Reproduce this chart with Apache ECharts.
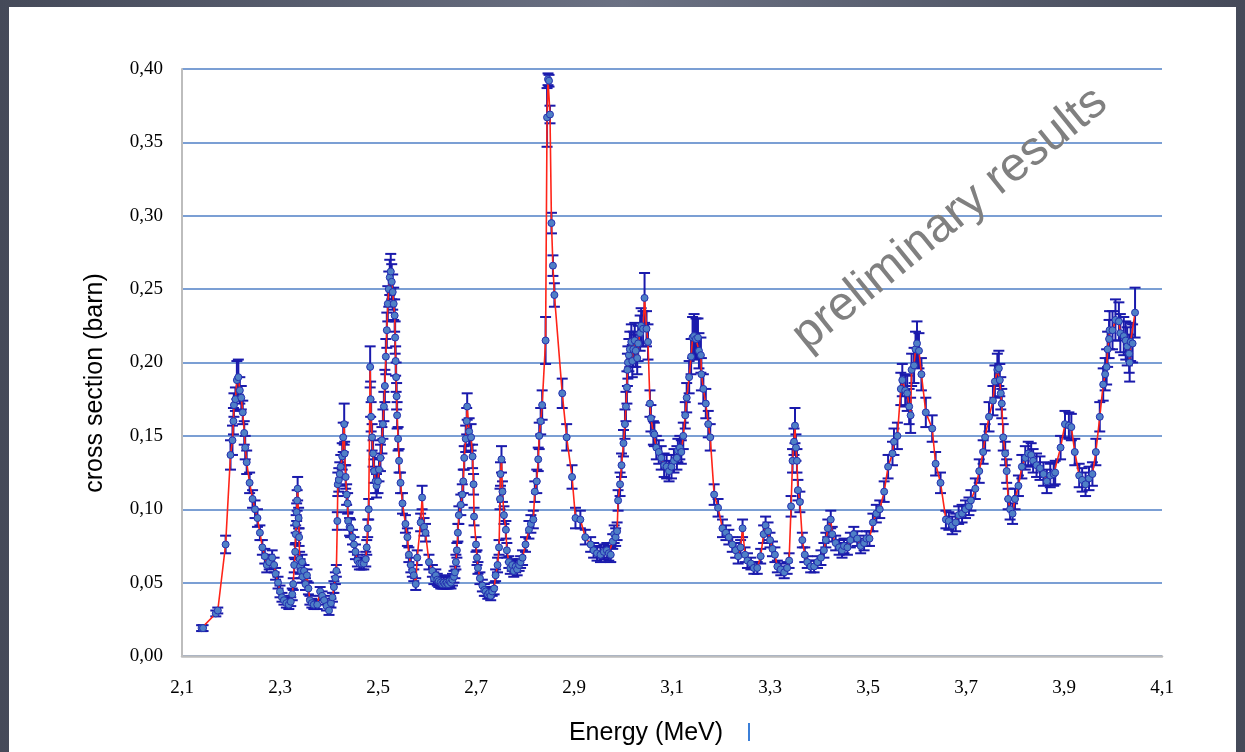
<!DOCTYPE html>
<html>
<head>
<meta charset="utf-8">
<script src="https://cdn.jsdelivr.net/npm/echarts@6/dist/echarts.min.js"></script>
<style>
  html, body { margin: 0; padding: 0; width: 1245px; height: 752px; overflow: hidden; }
  body { background: linear-gradient(90deg, #454a59 0%, #6b7183 50%, #454a59 100%); }
  #sheet { position: absolute; left: 9px; top: 7px; width: 1227px; height: 745px; background: #ffffff; }
  #chart { position: absolute; left: 0; top: 0; width: 1245px; height: 752px; }
</style>
</head>
<body>
<div id="sheet"></div>
<div id="chart"></div>
<script>
// Measured points: beam energy (MeV), cross section (barn) and its uncertainty (barn)
const energyMeV = [
  2.140, 2.143, 2.169, 2.173, 2.189, 2.199, 2.203, 2.205, 2.206, 2.209, 2.212, 2.215, 2.218, 2.221, 2.224, 2.227, 2.229, 2.232, 2.238, 2.244,
  2.249, 2.254, 2.259, 2.264, 2.269, 2.273, 2.278, 2.284, 2.288, 2.291, 2.296, 2.300, 2.304, 2.308, 2.313, 2.318, 2.322, 2.325, 2.327, 2.329,
  2.331, 2.332, 2.333, 2.334, 2.335, 2.336, 2.338, 2.339, 2.340, 2.341, 2.343, 2.345, 2.346, 2.349, 2.352, 2.355, 2.358, 2.361, 2.365, 2.369,
  2.376, 2.382, 2.386, 2.390, 2.395, 2.400, 2.404, 2.407, 2.410, 2.413, 2.415, 2.417, 2.418, 2.420, 2.422, 2.424, 2.427, 2.429, 2.431, 2.432,
  2.434, 2.436, 2.438, 2.439, 2.442, 2.444, 2.448, 2.451, 2.454, 2.458, 2.462, 2.466, 2.471, 2.475, 2.477, 2.479, 2.481, 2.484, 2.485, 2.486,
  2.488, 2.490, 2.492, 2.495, 2.497, 2.500, 2.502, 2.505, 2.508, 2.510, 2.512, 2.514, 2.516, 2.518, 2.520, 2.522, 2.524, 2.526, 2.528, 2.530,
  2.532, 2.534, 2.535, 2.536, 2.537, 2.538, 2.539, 2.541, 2.543, 2.546, 2.550, 2.556, 2.560, 2.563, 2.567, 2.570, 2.573, 2.577, 2.580, 2.587,
  2.590, 2.594, 2.597, 2.604, 2.611, 2.614, 2.618, 2.621, 2.624, 2.628, 2.631, 2.634, 2.637, 2.640, 2.643, 2.646, 2.649, 2.652, 2.655, 2.657,
  2.659, 2.661, 2.663, 2.665, 2.669, 2.672, 2.674, 2.676, 2.679, 2.681, 2.682, 2.686, 2.690, 2.693, 2.695, 2.696, 2.700, 2.702, 2.704, 2.708,
  2.713, 2.717, 2.720, 2.724, 2.727, 2.730, 2.733, 2.737, 2.740, 2.744, 2.747, 2.749, 2.750, 2.752, 2.754, 2.757, 2.761, 2.763, 2.767, 2.770,
  2.774, 2.777, 2.781, 2.784, 2.788, 2.791, 2.795, 2.801, 2.808, 2.812, 2.817, 2.820, 2.824, 2.827, 2.829, 2.832, 2.835, 2.842, 2.845, 2.847,
  2.849, 2.851, 2.854, 2.857, 2.860, 2.876, 2.885, 2.896, 2.903, 2.913, 2.923, 2.934, 2.940, 2.947, 2.954, 2.961, 2.967, 2.971, 2.975, 2.979,
  2.982, 2.985, 2.988, 2.990, 2.994, 2.997, 3.001, 3.004, 3.006, 3.008, 3.009, 3.010, 3.012, 3.014, 3.017, 3.019, 3.021, 3.024, 3.026, 3.029,
  3.031, 3.035, 3.037, 3.041, 3.044, 3.048, 3.051, 3.055, 3.057, 3.062, 3.064, 3.068, 3.073, 3.078, 3.084, 3.089, 3.094, 3.099, 3.104, 3.110,
  3.112, 3.116, 3.119, 3.123, 3.127, 3.130, 3.135, 3.139, 3.142, 3.145, 3.149, 3.153, 3.155, 3.159, 3.160, 3.164, 3.169, 3.174, 3.178, 3.186,
  3.194, 3.203, 3.210, 3.216, 3.223, 3.230, 3.235, 3.240, 3.244, 3.249, 3.254, 3.261, 3.267, 3.274, 3.281, 3.287, 3.291, 3.296, 3.300, 3.305,
  3.310, 3.315, 3.322, 3.329, 3.335, 3.339, 3.343, 3.346, 3.349, 3.351, 3.353, 3.355, 3.357, 3.361, 3.366, 3.371, 3.376, 3.383, 3.390, 3.397,
  3.404, 3.410, 3.414, 3.418, 3.424, 3.427, 3.434, 3.441, 3.447, 3.451, 3.458, 3.464, 3.471, 3.478, 3.485, 3.492, 3.497, 3.503, 3.510, 3.517,
  3.524, 3.533, 3.541, 3.550, 3.553, 3.560, 3.567, 3.570, 3.576, 3.580, 3.584, 3.587, 3.589, 3.594, 3.597, 3.600, 3.604, 3.609, 3.618, 3.631,
  3.638, 3.648, 3.659, 3.665, 3.672, 3.679, 3.685, 3.692, 3.699, 3.706, 3.710, 3.719, 3.727, 3.735, 3.739, 3.747, 3.755, 3.759, 3.764, 3.767,
  3.769, 3.771, 3.773, 3.776, 3.780, 3.783, 3.786, 3.790, 3.795, 3.800, 3.807, 3.814, 3.821, 3.827, 3.833, 3.837, 3.844, 3.851, 3.858, 3.865,
  3.872, 3.879, 3.882, 3.893, 3.902, 3.910, 3.915, 3.922, 3.931, 3.937, 3.944, 3.951, 3.958, 3.965, 3.973, 3.980, 3.984, 3.987, 3.989, 3.992,
  3.993, 3.999, 4.005, 4.012, 4.015, 4.022, 4.026, 4.029, 4.033, 4.034, 4.036, 4.040, 4.045
];

const crossSection = [
  0.019, 0.019, 0.029, 0.031, 0.076, 0.137, 0.147, 0.160, 0.171, 0.175, 0.188, 0.190, 0.181, 0.176, 0.166, 0.152, 0.142, 0.132, 0.118, 0.107,
  0.100, 0.094, 0.084, 0.074, 0.068, 0.062, 0.064, 0.067, 0.062, 0.056, 0.050, 0.044, 0.040, 0.038, 0.036, 0.035, 0.037, 0.042, 0.049, 0.062,
  0.071, 0.083, 0.090, 0.098, 0.106, 0.114, 0.094, 0.081, 0.066, 0.061, 0.058, 0.064, 0.054, 0.058, 0.049, 0.055, 0.046, 0.038, 0.036, 0.035,
  0.035, 0.044, 0.041, 0.038, 0.034, 0.031, 0.036, 0.040, 0.047, 0.053, 0.058, 0.092, 0.117, 0.120, 0.124, 0.129, 0.136, 0.149, 0.158, 0.138,
  0.122, 0.110, 0.104, 0.092, 0.088, 0.087, 0.081, 0.076, 0.071, 0.065, 0.063, 0.063, 0.063, 0.066, 0.074, 0.087, 0.100, 0.197, 0.175, 0.163,
  0.149, 0.138, 0.126, 0.119, 0.116, 0.119, 0.127, 0.135, 0.147, 0.158, 0.170, 0.184, 0.204, 0.222, 0.240, 0.250, 0.258, 0.262, 0.255, 0.248,
  0.240, 0.232, 0.217, 0.201, 0.190, 0.177, 0.164, 0.148, 0.133, 0.118, 0.104, 0.090, 0.081, 0.069, 0.062, 0.058, 0.055, 0.049, 0.067, 0.091,
  0.108, 0.088, 0.084, 0.064, 0.058, 0.053, 0.055, 0.052, 0.051, 0.050, 0.049, 0.050, 0.049, 0.050, 0.049, 0.051, 0.050, 0.052, 0.054, 0.057,
  0.064, 0.072, 0.084, 0.096, 0.103, 0.110, 0.119, 0.135, 0.148, 0.160, 0.170, 0.153, 0.149, 0.136, 0.117, 0.095, 0.076, 0.067, 0.060, 0.053,
  0.048, 0.045, 0.044, 0.042, 0.043, 0.041, 0.044, 0.046, 0.055, 0.062, 0.074, 0.107, 0.124, 0.134, 0.112, 0.096, 0.086, 0.072, 0.064, 0.060,
  0.062, 0.058, 0.061, 0.059, 0.062, 0.064, 0.067, 0.076, 0.086, 0.090, 0.093, 0.112, 0.119, 0.134, 0.150, 0.160, 0.171, 0.215, 0.367, 0.393,
  0.392, 0.369, 0.295, 0.266, 0.246, 0.179, 0.149, 0.122, 0.094, 0.093, 0.081, 0.076, 0.072, 0.070, 0.069, 0.071, 0.072, 0.070, 0.069, 0.078,
  0.083, 0.081, 0.085, 0.106, 0.117, 0.130, 0.145, 0.158, 0.170, 0.183, 0.195, 0.200, 0.205, 0.209, 0.214, 0.201, 0.209, 0.215, 0.208, 0.203,
  0.213, 0.220, 0.225, 0.223, 0.244, 0.223, 0.214, 0.172, 0.162, 0.152, 0.151, 0.142, 0.139, 0.135, 0.130, 0.129, 0.126, 0.129, 0.133, 0.135,
  0.140, 0.142, 0.139, 0.150, 0.164, 0.176, 0.190, 0.204, 0.217, 0.218, 0.216, 0.217, 0.208, 0.205, 0.192, 0.182, 0.172, 0.158, 0.149, 0.110,
  0.101, 0.087, 0.084, 0.081, 0.076, 0.072, 0.068, 0.074, 0.087, 0.069, 0.065, 0.063, 0.060, 0.060, 0.068, 0.083, 0.089, 0.085, 0.079, 0.073,
  0.069, 0.061, 0.059, 0.057, 0.060, 0.065, 0.102, 0.133, 0.146, 0.157, 0.142, 0.133, 0.113, 0.105, 0.079, 0.069, 0.064, 0.061, 0.061, 0.064,
  0.067, 0.072, 0.079, 0.087, 0.093, 0.083, 0.077, 0.074, 0.072, 0.075, 0.074, 0.079, 0.083, 0.080, 0.075, 0.077, 0.080, 0.080, 0.091, 0.097,
  0.100, 0.112, 0.129, 0.138, 0.146, 0.150, 0.182, 0.188, 0.181, 0.179, 0.170, 0.164, 0.195, 0.198, 0.209, 0.213, 0.208, 0.192, 0.166, 0.155,
  0.131, 0.118, 0.093, 0.092, 0.089, 0.091, 0.096, 0.097, 0.100, 0.102, 0.106, 0.114, 0.126, 0.139, 0.149, 0.163, 0.174, 0.187, 0.195, 0.196,
  0.188, 0.179, 0.172, 0.149, 0.138, 0.126, 0.107, 0.100, 0.097, 0.107, 0.116, 0.129, 0.135, 0.138, 0.137, 0.133, 0.130, 0.128, 0.124, 0.119,
  0.123, 0.124, 0.125, 0.142, 0.158, 0.157, 0.156, 0.139, 0.123, 0.120, 0.117, 0.121, 0.124, 0.139, 0.163, 0.185, 0.192, 0.197, 0.209, 0.216,
  0.222, 0.222, 0.229, 0.228, 0.220, 0.218, 0.215, 0.211, 0.206, 0.200, 0.214, 0.213, 0.234
];

const uncertainty = [
  0.002, 0.002, 0.002, 0.002, 0.006, 0.010, 0.010, 0.009, 0.008, 0.008, 0.013, 0.012, 0.009, 0.008, 0.008, 0.008, 0.008, 0.008, 0.007, 0.006,
  0.006, 0.006, 0.005, 0.005, 0.005, 0.005, 0.005, 0.005, 0.005, 0.004, 0.004, 0.004, 0.003, 0.003, 0.003, 0.003, 0.003, 0.004, 0.004, 0.005,
  0.005, 0.006, 0.006, 0.006, 0.007, 0.008, 0.007, 0.006, 0.005, 0.005, 0.005, 0.005, 0.004, 0.004, 0.004, 0.004, 0.004, 0.003, 0.003, 0.003,
  0.003, 0.003, 0.003, 0.003, 0.003, 0.003, 0.003, 0.003, 0.004, 0.004, 0.004, 0.006, 0.008, 0.008, 0.008, 0.008, 0.009, 0.010, 0.014, 0.008,
  0.008, 0.007, 0.007, 0.006, 0.006, 0.006, 0.005, 0.005, 0.005, 0.004, 0.004, 0.004, 0.004, 0.005, 0.005, 0.006, 0.007, 0.014, 0.012, 0.010,
  0.009, 0.009, 0.008, 0.008, 0.008, 0.008, 0.008, 0.009, 0.009, 0.010, 0.010, 0.011, 0.012, 0.012, 0.012, 0.012, 0.012, 0.012, 0.012, 0.012,
  0.011, 0.011, 0.011, 0.010, 0.010, 0.009, 0.009, 0.008, 0.008, 0.007, 0.007, 0.006, 0.006, 0.005, 0.005, 0.004, 0.004, 0.004, 0.005, 0.006,
  0.008, 0.006, 0.006, 0.005, 0.004, 0.004, 0.004, 0.004, 0.004, 0.004, 0.003, 0.004, 0.003, 0.004, 0.003, 0.004, 0.004, 0.004, 0.004, 0.004,
  0.005, 0.005, 0.006, 0.006, 0.007, 0.007, 0.008, 0.008, 0.009, 0.009, 0.009, 0.009, 0.009, 0.008, 0.007, 0.006, 0.005, 0.005, 0.004, 0.004,
  0.004, 0.004, 0.003, 0.003, 0.003, 0.003, 0.003, 0.004, 0.004, 0.005, 0.005, 0.007, 0.008, 0.009, 0.007, 0.006, 0.006, 0.005, 0.004, 0.004,
  0.004, 0.004, 0.004, 0.004, 0.004, 0.004, 0.005, 0.005, 0.006, 0.006, 0.006, 0.007, 0.008, 0.008, 0.009, 0.009, 0.010, 0.016, 0.020, 0.004,
  0.004, 0.006, 0.007, 0.007, 0.008, 0.010, 0.009, 0.008, 0.007, 0.006, 0.005, 0.005, 0.005, 0.005, 0.005, 0.005, 0.005, 0.005, 0.005, 0.005,
  0.006, 0.006, 0.006, 0.007, 0.008, 0.008, 0.009, 0.010, 0.010, 0.011, 0.011, 0.011, 0.011, 0.012, 0.012, 0.011, 0.012, 0.012, 0.011, 0.011,
  0.012, 0.012, 0.012, 0.012, 0.017, 0.012, 0.012, 0.009, 0.009, 0.008, 0.008, 0.008, 0.008, 0.008, 0.008, 0.008, 0.007, 0.008, 0.008, 0.008,
  0.008, 0.008, 0.008, 0.009, 0.009, 0.010, 0.011, 0.012, 0.014, 0.015, 0.014, 0.013, 0.012, 0.012, 0.011, 0.010, 0.010, 0.009, 0.009, 0.007,
  0.006, 0.006, 0.005, 0.005, 0.005, 0.005, 0.005, 0.005, 0.006, 0.005, 0.005, 0.004, 0.004, 0.004, 0.005, 0.006, 0.006, 0.006, 0.005, 0.005,
  0.005, 0.004, 0.004, 0.004, 0.004, 0.005, 0.007, 0.008, 0.009, 0.012, 0.009, 0.008, 0.007, 0.007, 0.005, 0.005, 0.004, 0.004, 0.004, 0.004,
  0.005, 0.005, 0.005, 0.006, 0.006, 0.005, 0.005, 0.005, 0.005, 0.005, 0.005, 0.005, 0.005, 0.005, 0.005, 0.005, 0.005, 0.005, 0.006, 0.006,
  0.006, 0.007, 0.008, 0.008, 0.009, 0.009, 0.011, 0.011, 0.011, 0.012, 0.012, 0.012, 0.011, 0.012, 0.012, 0.015, 0.012, 0.011, 0.010, 0.009,
  0.008, 0.007, 0.006, 0.006, 0.006, 0.006, 0.006, 0.006, 0.006, 0.006, 0.007, 0.007, 0.008, 0.008, 0.009, 0.010, 0.010, 0.011, 0.011, 0.012,
  0.011, 0.011, 0.010, 0.009, 0.008, 0.008, 0.007, 0.007, 0.007, 0.007, 0.007, 0.008, 0.008, 0.008, 0.008, 0.008, 0.008, 0.008, 0.008, 0.008,
  0.008, 0.008, 0.008, 0.008, 0.009, 0.009, 0.009, 0.009, 0.008, 0.008, 0.008, 0.008, 0.008, 0.009, 0.010, 0.011, 0.011, 0.012, 0.012, 0.013,
  0.013, 0.013, 0.014, 0.013, 0.013, 0.013, 0.013, 0.013, 0.013, 0.013, 0.013, 0.013, 0.017
];

// Axis tick labels
const energyTicks = [2.1, 2.3, 2.5, 2.7, 2.9, 3.1, 3.3, 3.5, 3.7, 3.9, 4.1];
const sectionTicks = [0, 0.05, 0.10, 0.15, 0.20, 0.25, 0.30, 0.35, 0.40];

const decimalComma = (v, digits) => v.toFixed(digits).replace('.', ',');

const linePoints = energyMeV.map((e, i) => [e, crossSection[i]]);
const errorRanges = energyMeV.map((e, i) => [e, crossSection[i] - uncertainty[i], crossSection[i] + uncertainty[i]]);

const chart = echarts.init(document.getElementById('chart'), null, { renderer: 'canvas' });

chart.setOption({
  animation: false,
  backgroundColor: 'transparent',
  grid: { left: 182, right: 83, top: 69, bottom: 96, containLabel: false },
  xAxis: {
    type: 'value',
    min: energyTicks[0],
    max: energyTicks[energyTicks.length - 1],
    interval: 0.1,
    axisLine: { show: true, onZero: false, lineStyle: { color: '#bdbdbd', width: 2.5 } },
    axisTick: { show: false },
    splitLine: { show: false },
    axisLabel: {
      margin: 23,
      color: '#000000',
      fontFamily: 'Liberation Serif',
      fontSize: 19,
      showMinLabel: true,
      showMaxLabel: true,
      formatter: v => energyTicks.some(t => Math.abs(t - v) < 1e-6) ? decimalComma(v, 1) : ''
    }
  },
  yAxis: {
    type: 'value',
    min: sectionTicks[0],
    max: sectionTicks[sectionTicks.length - 1],
    interval: 0.05,
    axisLine: { show: true, lineStyle: { color: '#bdbdbd', width: 2 } },
    axisTick: { show: false },
    splitLine: { show: true, lineStyle: { color: '#7b9fd4', width: 2 } },
    axisLabel: {
      margin: 19,
      color: '#000000',
      fontFamily: 'Liberation Serif',
      fontSize: 19,
      formatter: v => decimalComma(v, 2)
    }
  },
  series: [
    {
      name: 'uncertainty',
      type: 'custom',
      z: 1,
      data: errorRanges,
      encode: { x: 0, y: [1, 2] },
      renderItem: (params, api) => {
        const e = api.value(0);
        const lo = api.coord([e, api.value(1)]);
        const hi = api.coord([e, api.value(2)]);
        const cap = 5.5;
        const style = { stroke: '#1a1aac', lineWidth: 2, fill: null };
        return {
          type: 'group',
          children: [
            { type: 'line', shape: { x1: lo[0], y1: lo[1], x2: hi[0], y2: hi[1] }, style },
            { type: 'line', shape: { x1: lo[0] - cap, y1: lo[1], x2: lo[0] + cap, y2: lo[1] }, style },
            { type: 'line', shape: { x1: hi[0] - cap, y1: hi[1], x2: hi[0] + cap, y2: hi[1] }, style }
          ]
        };
      }
    },
    {
      name: 'cross section',
      type: 'line',
      z: 2,
      data: linePoints,
      showAllSymbol: true,
      symbol: 'circle',
      symbolSize: 7,
      lineStyle: { color: '#ff2418', width: 1.6 },
      itemStyle: { color: '#4f80c6', borderColor: '#2430b0', borderWidth: 1 }
    }
  ],
  graphic: [
    {
      type: 'text',
      x: 95, y: 383,
      rotation: Math.PI / 2,
      style: {
        text: 'cross section (barn)',
        font: '25px "Liberation Sans", Arial, sans-serif',
        fill: '#000000',
        align: 'center',
        verticalAlign: 'middle'
      }
    },
    {
      type: 'text',
      x: 646, y: 733,
      style: {
        text: 'Energy (MeV)',
        font: '25px "Liberation Sans", Arial, sans-serif',
        fill: '#000000',
        align: 'center',
        verticalAlign: 'middle'
      }
    },
    {
      type: 'line',
      shape: { x1: 749, y1: 723, x2: 749, y2: 741 },
      style: { stroke: '#3b7fd8', lineWidth: 2 }
    },
    {
      type: 'text',
      x: 950, y: 219,
      rotation: 39 * Math.PI / 180,
      z: 10,
      style: {
        text: 'preliminary results',
        font: '48px "Liberation Sans", Arial, sans-serif',
        fill: '#808080',
        align: 'center',
        verticalAlign: 'middle'
      }
    }
  ]
});
</script>
</body>
</html>
